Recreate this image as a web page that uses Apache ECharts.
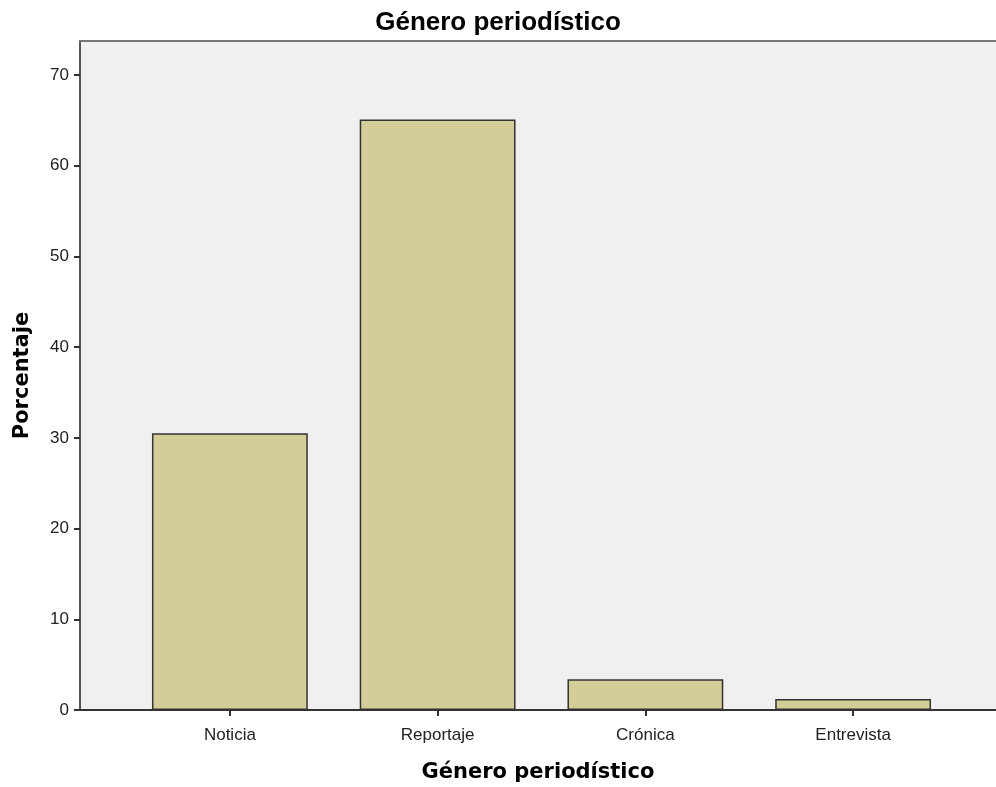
<!DOCTYPE html>
<html>
<head>
<meta charset="utf-8">
<script src="https://cdn.jsdelivr.net/npm/echarts@6/dist/echarts.min.js"></script>
<style>html,body{margin:0;padding:0;background:#fff}#c{width:996px;height:787px}</style>
</head>
<body>
<div id="c"></div>
<script>
const categories = ['Noticia', 'Reportaje', 'Crónica', 'Entrevista'];
const percentages = [30.5, 65.1, 3.4, 1.2];
const yTicks = [0, 10, 20, 30, 40, 50, 60, 70];

const chart = echarts.init(document.getElementById('c'), null, {renderer: 'canvas'});
const YMAX = 73.75;
chart.setOption({
  animation: false,
  backgroundColor: '#ffffff',
  title: {
    text: 'Género periodístico',
    left: 'center', top: 5,
    textStyle: {fontFamily: 'Liberation Sans', fontWeight: 'bold', fontSize: 26, color: '#000'}
  },
  grid: [
    {left: 80, right: 0, top: 41, bottom: 77, show: true, backgroundColor: '#f0f0f0', borderWidth: 0, outerBoundsMode: 'none', containLabel: false},
    {left: 126, right: 39, top: 41, bottom: 77, show: false, outerBoundsMode: 'none', containLabel: false}
  ],
  xAxis: [
    {gridIndex: 0, type: 'value', min: 0, max: 1, position: 'bottom',
     axisLine: {show: true, onZero: false, lineStyle: {color: '#333', width: 2}},
     axisTick: {show: false}, axisLabel: {show: false}, splitLine: {show: false},
     name: 'Género periodístico', nameLocation: 'middle', nameGap: 52,
     nameTextStyle: {fontFamily: 'DejaVu Sans', fontWeight: 'bold', fontSize: 21, color: '#000'}},
    {gridIndex: 0, type: 'value', min: 0, max: 1, position: 'top',
     axisLine: {show: true, onZero: false, lineStyle: {color: '#777', width: 2}},
     axisTick: {show: false}, axisLabel: {show: false}, splitLine: {show: false}},
    {gridIndex: 1, type: 'category', data: categories, position: 'bottom',
     axisLine: {show: false},
     axisTick: {show: true, alignWithLabel: true, length: 6, lineStyle: {color: '#333', width: 2}},
     axisLabel: {fontFamily: 'Liberation Sans', fontSize: 17, color: '#222', margin: 17}}
  ],
  yAxis: [
    {gridIndex: 0, type: 'value', min: 0, max: YMAX, interval: 10,
     axisLine: {show: true, onZero: false, lineStyle: {color: '#555', width: 2}},
     axisTick: {show: true, length: 6, customValues: yTicks, lineStyle: {color: '#333', width: 2}},
     axisLabel: {fontFamily: 'Liberation Sans', fontSize: 17, color: '#222', margin: 11, customValues: yTicks},
     splitLine: {show: false},
     name: 'Porcentaje', nameLocation: 'middle', nameGap: 47, nameRotate: 90,
     nameTextStyle: {fontFamily: 'DejaVu Sans', fontWeight: 'bold', fontSize: 21, color: '#000'}},
    {gridIndex: 1, type: 'value', min: 0, max: YMAX, interval: 10, show: false}
  ],
  series: [{
    type: 'bar', xAxisIndex: 2, yAxisIndex: 1,
    data: percentages, barWidth: '75%',
    itemStyle: {color: '#d3ce97', borderColor: '#333', borderWidth: 1.5}
  }]
});
</script>
</body>
</html>
